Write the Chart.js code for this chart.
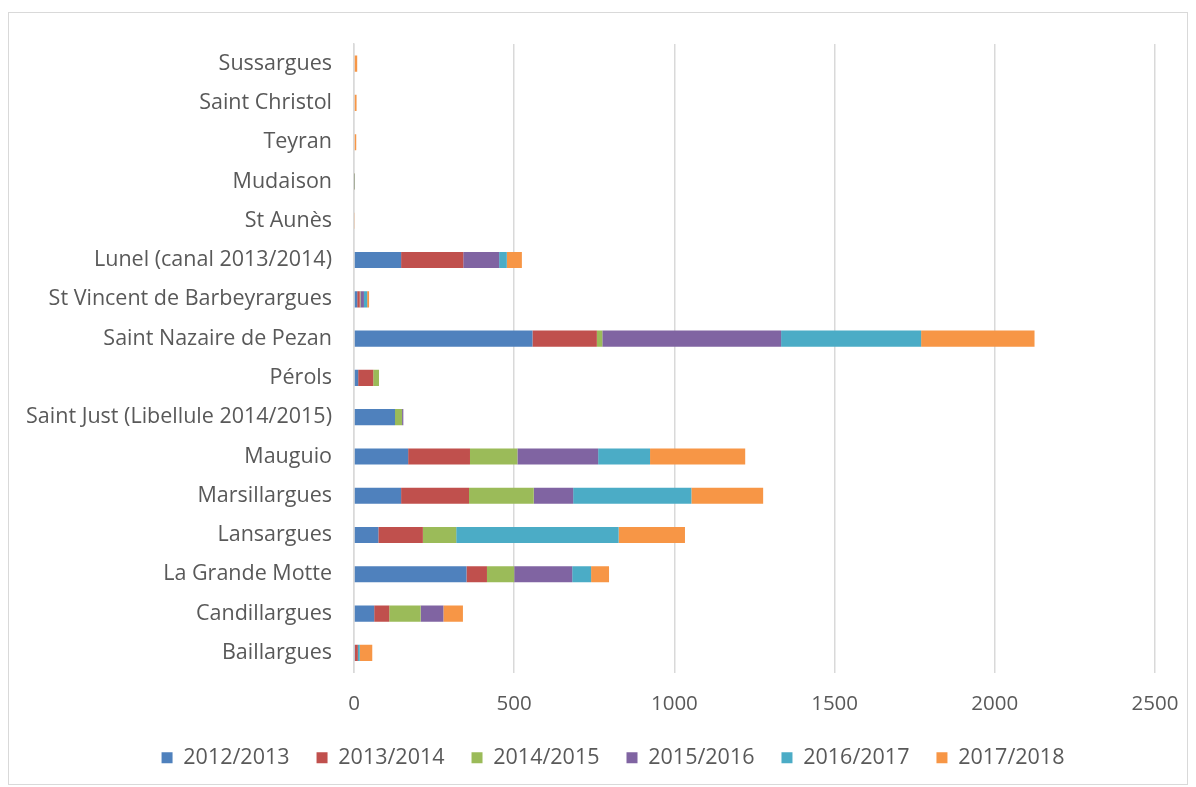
<!DOCTYPE html>
<html>
<head>
<meta charset="utf-8">
<script src="https://cdn.jsdelivr.net/npm/chart.js@4/dist/chart.umd.min.js"></script>
<style>
  html, body { margin: 0; padding: 0; background: #fff; }
  #cadre { position: absolute; left: 8px; top: 12px; width: 1178px; height: 771px; border: 1px solid #d9d9d9; }
  #graphe { display: block; }
</style>
</head>
<body>
<div id="cadre"><canvas id="graphe" width="1178" height="771"></canvas></div>
<script>
// communes, de haut en bas
const communes = [
  'Sussargues', 'Saint Christol', 'Teyran', 'Mudaison', 'St Aunès',
  'Lunel (canal 2013/2014)', 'St Vincent de Barbeyrargues', 'Saint Nazaire de Pezan',
  'Pérols', 'Saint Just (Libellule 2014/2015)', 'Mauguio', 'Marsillargues',
  'Lansargues', 'La Grande Motte', 'Candillargues', 'Baillargues'
];

const saisons = ['2012/2013', '2013/2014', '2014/2015', '2015/2016', '2016/2017', '2017/2018'];
const couleurs = ['#4F81BD', '#C0504D', '#9BBB59', '#8064A2', '#4BACC6', '#F79646'];

const s2012 = [0, 0, 0, 0, 0, 147, 10, 557, 13, 128, 169, 147, 76, 351, 63, 3];
const s2013 = [0, 0, 0, 0, 0, 194, 8, 201, 47, 0, 193, 212, 139, 64, 47, 9];
const s2014 = [0, 0, 0, 0, 0, 0, 2, 17, 18, 22, 148, 202, 104, 85, 98, 0];
const s2015 = [0, 0, 0, 0, 0, 112, 11, 558, 0, 4, 252, 123, 0, 181, 71, 0];
const s2016 = [0, 0, 0, 1, 0, 24, 10, 437, 0, 0, 162, 369, 507, 59, 0, 6];
const s2017 = [10, 8, 7, 2, 3, 47, 6, 354, 0, 0, 297, 224, 207, 56, 61, 39];

const series = [s2012, s2013, s2014, s2015, s2016, s2017];

const police = "'Open Sans', sans-serif";

// decale la legende (centree sur la zone de trace dans l'original)
const decalLegende = {
  id: 'decalLegende',
  afterLayout(chart) {
    chart.legend.left += 31;
    chart.legend.right += 31;
    chart.legend.top += 3;
    chart.legend.bottom += 3;
  }
};

const ctx = document.getElementById('graphe').getContext('2d');
new Chart(ctx, {
  type: 'bar',
  data: {
    labels: communes,
    datasets: series.map((vals, i) => ({
      label: saisons[i],
      data: vals,
      backgroundColor: couleurs[i],
      borderWidth: 0,
      categoryPercentage: 1,
      barPercentage: 0.41
    }))
  },
  options: {
    indexAxis: 'y',
    responsive: false,
    animation: false,
    layout: { padding: { top: 31, right: 32, left: 0, bottom: 8.5 } },
    scales: {
      x: {
        stacked: true,
        min: 0,
        max: 2500,
        ticks: {
          stepSize: 500,
          color: '#595959',
          font: { family: police, size: 20.5 },
          padding: 19,
          callback: (v) => String(v)
        },
        grid: { color: '#d9d9d9', lineWidth: 1.5, drawTicks: false },
        border: { display: false },
        afterFit: (scale) => {
          scale.height = 44.5;
          scale.paddingLeft = 0;
          scale.paddingRight = 0;
        }
      },
      y: {
        stacked: true,
        ticks: { color: '#595959', font: { family: police, size: 21.5 }, padding: 22 },
        grid: { display: false, drawTicks: false },
        border: { color: '#d9d9d9', width: 1.5 },
        afterFit: (scale) => {
          scale.width = 345;
          scale.paddingTop = 0;
          scale.paddingBottom = 0;
        }
      }
    },
    plugins: {
      legend: {
        position: 'bottom',
        labels: {
          color: '#595959',
          font: { family: police, size: 21.5 },
          boxWidth: 11,
          boxHeight: 11,
          padding: 27
        }
      },
      tooltip: { enabled: false }
    }
  },
  plugins: [decalLegende]
});
</script>
</body>
</html>
